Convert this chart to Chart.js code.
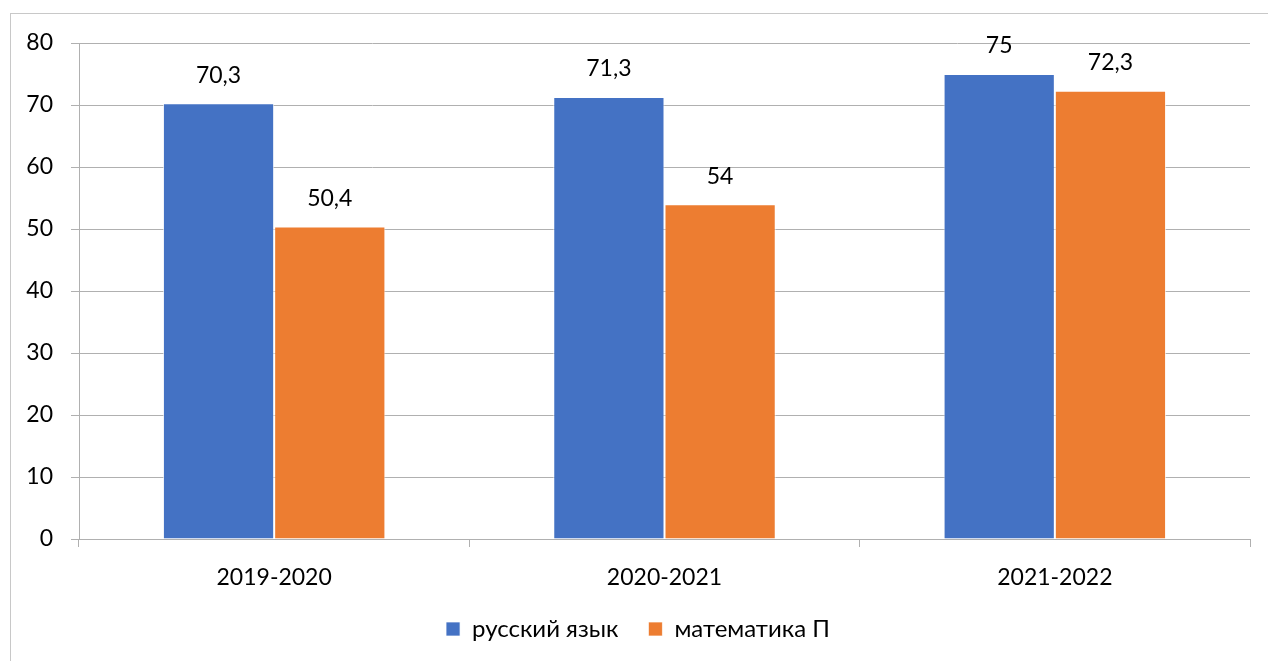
<!DOCTYPE html>
<html>
<head>
<meta charset="utf-8">
<script src="https://cdn.jsdelivr.net/npm/chart.js@4"></script>
<style>
    html, body { margin: 0; padding: 0; background: #fff; overflow: hidden; }
    #frame {
        position: absolute; left: 10px; top: 13px;
        width: 1300px; height: 700px;
        border: 1px solid #c8c8c8; box-sizing: border-box;
    }
    #wrap { position: absolute; left: 0; top: 0; width: 1268px; height: 661px; }
</style>
</head>
<body>
<div id="frame"></div>
<div id="wrap"><canvas id="chart"></canvas></div>
<script>
// Data
const categories = ['2019-2020', '2020-2021', '2021-2022'];
const russianValues = [70.3, 71.3, 75];
const mathValues = [50.4, 54, 72.3];
const seriesNames = ['русский язык', 'математика П'];
const yTicks = [0, 10, 20, 30, 40, 50, 60, 70, 80];

const FONT = "Lato, 'Open Sans', sans-serif";
const gridColor = '#b0b0b0';

// Value labels above each bar, decimal comma like the original
const valueLabels = {
    id: 'valueLabels',
    afterDatasetsDraw(chart) {
        const ctx = chart.ctx;
        ctx.save();
        ctx.font = `23px ${FONT}`;
        ctx.fillStyle = '#000';
        ctx.textAlign = 'center';
        ctx.textBaseline = 'middle';
        chart.data.datasets.forEach((ds, i) => {
            chart.getDatasetMeta(i).data.forEach((bar, j) => {
                const text = String(ds.data[j]).replace('.', ',');
                ctx.fillText(text, bar.x, bar.y - 28);
            });
        });
        ctx.restore();
    }
};

// The original legend sits a bit right of centre
const legendShift = {
    id: 'legendShift',
    afterLayout(chart) {
        if (chart.legend) {
            chart.legend.left += 13;
            chart.legend.right += 13;
        }
    }
};

const ctx = document.getElementById('chart').getContext('2d');
new Chart(ctx, {
    type: 'bar',
    data: {
        labels: categories,
        datasets: [
            {
                label: seriesNames[0],
                data: russianValues,
                backgroundColor: '#4472C4',
                borderColor: 'rgba(255,255,255,0.7)',
                borderWidth: 1,
                categoryPercentage: 0.57,
                barPercentage: 1.0
            },
            {
                label: seriesNames[1],
                data: mathValues,
                backgroundColor: '#ED7D31',
                borderColor: 'rgba(255,255,255,0.7)',
                borderWidth: 1,
                categoryPercentage: 0.57,
                barPercentage: 1.0
            }
        ]
    },
    options: {
        responsive: true,
        maintainAspectRatio: false,
        animation: false,
        layout: {
            padding: { left: 0, right: 18, top: 43, bottom: 10 }
        },
        plugins: {
            legend: {
                position: 'bottom',
                labels: {
                    boxWidth: 14,
                    boxHeight: 14,
                    padding: 30,
                    color: '#000',
                    font: { family: FONT, size: 24 }
                }
            },
            tooltip: { enabled: false }
        },
        scales: {
            x: {
                offset: true,
                grid: {
                    offset: true,
                    drawOnChartArea: false,
                    drawTicks: true,
                    tickLength: 8,
                    color: gridColor
                },
                border: { color: gridColor, width: 1 },
                ticks: {
                    color: '#000',
                    padding: 17,
                    font: { family: FONT, size: 23 }
                },
                afterFit(scale) { scale.height = 48; }
            },
            y: {
                min: 0,
                max: 80,
                afterBuildTicks(scale) {
                    scale.ticks = yTicks.map(v => ({ value: v }));
                },
                grid: {
                    color: gridColor,
                    tickLength: 8
                },
                border: { color: gridColor, width: 1 },
                ticks: {
                    color: '#000',
                    padding: 18,
                    font: { family: FONT, size: 23 }
                },
                afterFit(scale) { scale.width = 79; }
            }
        }
    },
    plugins: [valueLabels, legendShift]
});
</script>
</body>
</html>
